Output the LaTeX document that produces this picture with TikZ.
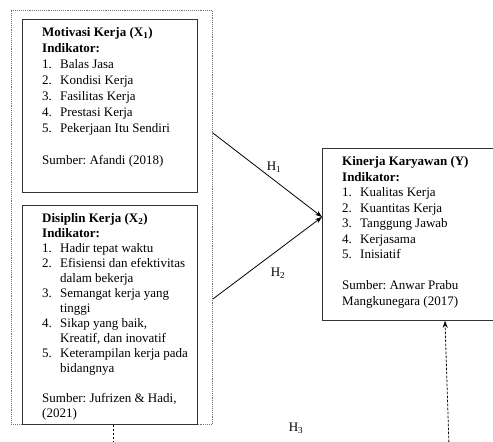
\documentclass[tikz,border=0pt]{standalone}
\usepackage{fontspec}
\setmainfont{Liberation Serif}
\usetikzlibrary{arrows.meta,calc}
\newcommand\itm[1]{\makebox[18pt][l]{#1}}
\newcommand\cnt{\hspace*{18pt}}
\frenchspacing
\begin{document}
\begin{tikzpicture}[x=1pt,y=-1pt,
  box/.style={draw=black!80, line width=0.8pt, inner sep=0pt, anchor=north west},
  frm/.style={draw=black!55, densely dotted, line width=0.9pt, inner sep=0pt, anchor=north west},
  txt/.style={inner sep=0pt, anchor=north west, align=left},
  lbl/.style={inner sep=0pt, font=\fontsize{13}{16}\selectfont},
  arr/.style={-{Stealth[length=7pt,width=5pt]}, line width=0.8pt},
  dsh/.style={dash pattern=on 2.5pt off 1.5pt, line width=0.8pt}
]
\clip (0,0) rectangle (493,442);
% outer dotted frame
\node[frm, minimum width=201pt, minimum height=414pt] (frame) at (11,10) {};
% X1 box
\node[box, minimum width=175pt, minimum height=173pt] (x1) at (22,19) {};
\node[txt, font=\fontsize{13}{16}\selectfont] (x1t) at (42,27.5) {%
\textbf{Motivasi Kerja (X\textsubscript{1})}\\
\textbf{Indikator:}\\
\itm{1.}Balas Jasa\\
\itm{2.}Kondisi Kerja\\
\itm{3.}Fasilitas Kerja\\
\itm{4.}Prestasi Kerja\\
\itm{5.}Pekerjaan Itu Sendiri\\[16pt]
Sumber: Afandi (2018)};
% X2 box
\node[box, minimum width=175pt, minimum height=219pt] (x2) at (22,205) {};
\node[txt, font=\fontsize{13}{15}\selectfont] (x2t) at (42,213) {%
\textbf{Disiplin Kerja (X\textsubscript{2})}\\
\textbf{Indikator:}\\
\itm{1.}Hadir tepat waktu\\
\itm{2.}Efisiensi dan efektivitas\\
\cnt dalam bekerja\\
\itm{3.}Semangat kerja yang\\
\cnt tinggi\\
\itm{4.}Sikap yang baik,\\
\cnt Kreatif, dan inovatif\\
\itm{5.}Keterampilan kerja pada\\
\cnt bidangnya\\[15pt]
Sumber: Jufrizen \& Hadi,\\
(2021)};
% Y box
\node[box, minimum width=190pt, minimum height=172pt] (ybox) at (322,148) {};
\node[txt, font=\fontsize{13}{15.5}\selectfont] (yt) at (342,156.5) {%
\textbf{Kinerja Karyawan (Y)}\\
\textbf{Indikator:}\\
\itm{1.}Kualitas Kerja\\
\itm{2.}Kuantitas Kerja\\
\itm{3.}Tanggung Jawab\\
\itm{4.}Kerjasama\\
\itm{5.}Inisiatif\\[15.5pt]
Sumber: Anwar Prabu\\
Mangkunegara (2017)};
% connector points
\coordinate (h1s) at ($(frame.north east)+(0,123)$);
\coordinate (h2s) at ($(frame.north east)+(0,289)$);
\coordinate (yin) at ($(ybox.north west)+(0,69)$);
\coordinate (yb) at ($(ybox.south west)+(123,0)$);
\coordinate (b3) at (449,446);
\coordinate (fb) at ($(frame.south west)+(102,0)$);
\coordinate (b1) at (113,446);
\draw[arr] (h1s) -- (yin);
\draw[arr] (h2s) -- (yin);
\draw[arr, dsh] (b3) -- (yb);
\draw[dsh] (fb) -- (b1);
% labels
\node[lbl] (lh1) at (274,167) {H\textsubscript{1}};
\node[lbl] (lh2) at (278,273) {H\textsubscript{2}};
\node[lbl] (lh3) at (296,428) {H\textsubscript{3}};
\end{tikzpicture}
\end{document}
